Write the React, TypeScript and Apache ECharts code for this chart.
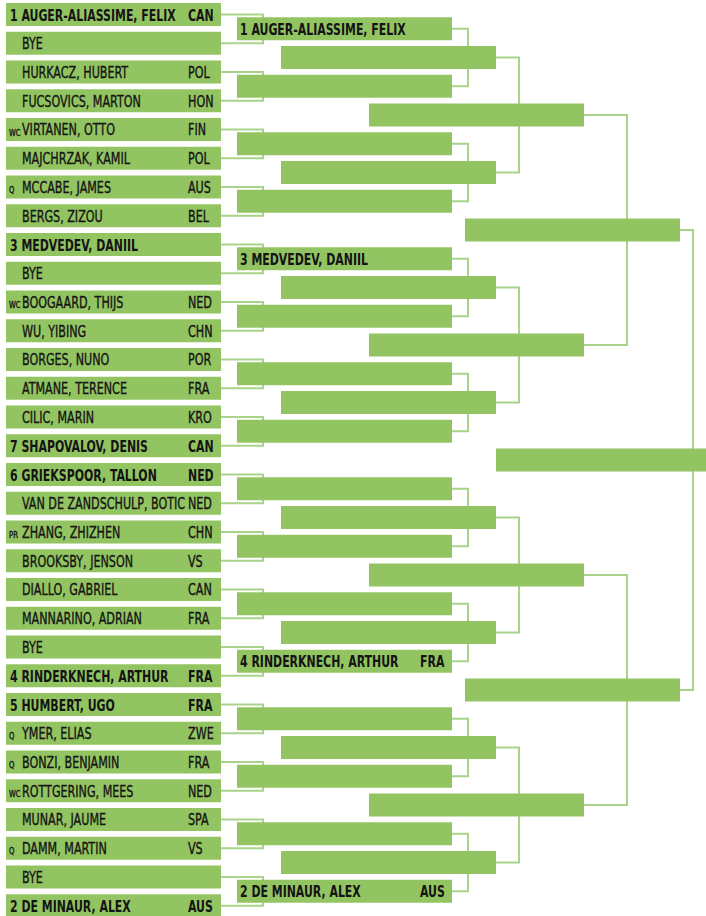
import React, { useEffect, useRef } from "react";
import * as echarts from "echarts";

// ---- Data ----
const r1Seeds = ["1", "", "", "", "", "", "", "", "3", "", "", "", "", "", "", "7", "6", "", "", "", "", "", "", "4", "5", "", "", "", "", "", "", "2"];
const r1Prefixes = ["", "", "", "", "WC", "", "Q", "", "", "", "WC", "", "", "", "", "", "", "", "PR", "", "", "", "", "", "", "Q", "Q", "WC", "", "Q", "", ""];
const r1Names = [
  "AUGER-ALIASSIME, FELIX", "BYE", "HURKACZ, HUBERT", "FUCSOVICS, MARTON",
  "VIRTANEN, OTTO", "MAJCHRZAK, KAMIL", "MCCABE, JAMES", "BERGS, ZIZOU",
  "MEDVEDEV, DANIIL", "BYE", "BOOGAARD, THIJS", "WU, YIBING",
  "BORGES, NUNO", "ATMANE, TERENCE", "CILIC, MARIN", "SHAPOVALOV, DENIS",
  "GRIEKSPOOR, TALLON", "VAN DE ZANDSCHULP, BOTIC", "ZHANG, ZHIZHEN", "BROOKSBY, JENSON",
  "DIALLO, GABRIEL", "MANNARINO, ADRIAN", "BYE", "RINDERKNECH, ARTHUR",
  "HUMBERT, UGO", "YMER, ELIAS", "BONZI, BENJAMIN", "ROTTGERING, MEES",
  "MUNAR, JAUME", "DAMM, MARTIN", "BYE", "DE MINAUR, ALEX",
];
const r1Countries = [
  "CAN", "", "POL", "HON", "FIN", "POL", "AUS", "BEL",
  "", "", "NED", "CHN", "POR", "FRA", "KRO", "CAN",
  "NED", "NED", "CHN", "VS", "CAN", "FRA", "", "FRA",
  "FRA", "ZWE", "FRA", "NED", "SPA", "VS", "", "AUS",
];
const r2Names = ["1 AUGER-ALIASSIME, FELIX", "", "", "", "3 MEDVEDEV, DANIIL", "", "", "", "", "", "", "4 RINDERKNECH, ARTHUR", "", "", "", "2 DE MINAUR, ALEX"];
const r2Countries = ["", "", "", "", "", "", "", "", "", "", "", "FRA", "", "", "", "AUS"];

// ---- Layout ----
const ROUND_X = [6, 237, 281, 369, 465, 496];
const CONN_X = [263, 468, 519, 627, 693];
const BOX_W = 215;
const BOX_H = 23;
const GREEN = "#93c462";
const LINE = "#a9d38b";
const INK = "#141414";
const FAM = "'DejaVu Sans Condensed', 'DejaVu Sans', sans-serif";
const SCALE_N = 0.775;
const SCALE_B = 0.76;

export default function App() {
  const ref = useRef<HTMLDivElement>(null);
  useEffect(() => {
    if (!ref.current) return;
    const chart = echarts.init(ref.current, undefined, { renderer: "svg" });

    const boxData: number[][] = [];
    for (let r = 0; r < 6; r++) {
      const n = 32 / Math.pow(2, r);
      for (let k = 0; k < n; k++) {
        boxData.push([ROUND_X[r], (k + 0.5) * Math.pow(2, r) - 0.5, r, k]);
      }
    }
    const connData: number[][] = [];
    for (let r = 0; r < 5; r++) {
      const n = 32 / Math.pow(2, r + 1);
      for (let k = 0; k < n; k++) {
        const s = Math.pow(2, r);
        const yA = (2 * k + 0.5) * s - 0.5;
        const yB = (2 * k + 1.5) * s - 0.5;
        connData.push([ROUND_X[r] + BOX_W, yA, yB, CONN_X[r]]);
      }
    }

    const textEl = (x: number, y: number, text: string, bold: boolean, size = 16, scale?: number) => ({
      type: "text",
      x,
      y,
      scaleX: scale ?? (bold ? SCALE_B : SCALE_N),
      style: {
        text,
        x: 0,
        y: 0,
        font: `${bold ? "bold " : ""}${size}px ${FAM}`,
        fill: INK,
        stroke: bold ? undefined : INK,
        lineWidth: bold ? 0 : 0.35,
        verticalAlign: "middle",
        align: "left",
      },
    });

    chart.setOption({
      animation: false,
      grid: { left: 0, right: 0, top: 0, bottom: 0, outerBoundsMode: "none" },
      xAxis: { type: "value", min: 0, max: 706, show: false },
      yAxis: { type: "value", min: -0.5, max: 31.36, inverse: true, show: false },
      series: [
        {
          type: "custom",
          z: 1,
          clip: false,
          data: connData,
          renderItem: (params: any, api: any) => {
            const a = api.coord([api.value(0), api.value(1)]);
            const b = api.coord([api.value(3), api.value(2)]);
            return {
              type: "polyline",
              shape: {
                points: [
                  [a[0], a[1]],
                  [b[0], a[1]],
                  [b[0], b[1]],
                  [a[0], b[1]],
                ],
              },
              style: { stroke: LINE, lineWidth: 2, fill: "none" },
            };
          },
        },
        {
          type: "custom",
          z: 2,
          clip: false,
          data: boxData,
          renderItem: (params: any, api: any) => {
            const p = api.coord([api.value(0), api.value(1)]);
            const r = api.value(2);
            const k = api.value(3);
            const children: any[] = [
              {
                type: "rect",
                shape: { x: p[0], y: p[1] - BOX_H / 2, width: BOX_W, height: BOX_H },
                style: { fill: GREEN },
              },
            ];
            const cy = p[1] + 0.5;
            if (r === 0) {
              const seed = r1Seeds[k];
              const bold = seed !== "";
              if (bold) {
                children.push(textEl(p[0] + 4, cy, `${seed} ${r1Names[k]}`, true));
              } else {
                children.push(textEl(p[0] + 16, cy, r1Names[k], false));
              }
              if (r1Prefixes[k]) {
                children.push(textEl(p[0] + 3, cy + 2.5, r1Prefixes[k], false, 9, 0.85));
              }
              if (r1Countries[k]) {
                children.push(textEl(p[0] + 182, cy, r1Countries[k], bold));
              }
            } else if (r === 1) {
              if (r2Names[k]) children.push(textEl(p[0] + 3, cy, r2Names[k], true));
              if (r2Countries[k]) children.push(textEl(p[0] + 183, cy, r2Countries[k], true));
            }
            return { type: "group", children };
          },
        },
      ],
    });
    return () => chart.dispose();
  }, []);
  return <div ref={ref} style={{ position: "absolute", left: 0, top: 0, width: 706, height: 916 }} />;
}
